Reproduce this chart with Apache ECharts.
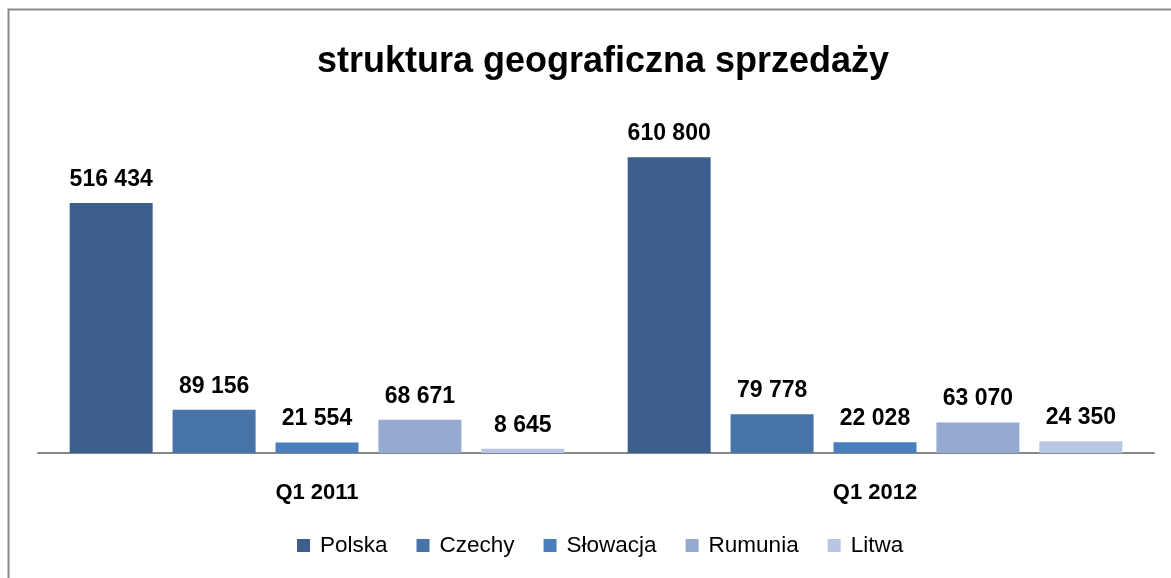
<!DOCTYPE html>
<html><head><meta charset="utf-8">
<script src="https://cdn.jsdelivr.net/npm/echarts@6/dist/echarts.min.js"></script>
<style>html,body{margin:0;padding:0;background:#fff}#c{width:1171px;height:578px}</style>
</head><body><div id="c"></div>
<script>
const categories = ['Q1 2011', 'Q1 2012'];
const seriesNames = ['Polska', 'Czechy', 'Słowacja', 'Rumunia', 'Litwa'];
const polska = [516434, 610800];
const czechy = [89156, 79778];
const slowacja = [21554, 22028];
const rumunia = [68671, 63070];
const litwa = [8645, 24350];
const values = [polska, czechy, slowacja, rumunia, litwa];
const colors = ['#3d5f8e', '#4673a8', '#4a7ebd', '#95a9d1', '#b9c6e3'];

const fmt = v => String(v).replace(/\B(?=(\d{3})+(?!\d))/g, ' ');
const FONT = 'Liberation Sans';
const chart = echarts.init(document.getElementById('c'));
chart.setOption({
  animation: false,
  title: {
    text: 'struktura geograficzna sprzedaży',
    left: 598, top: 39, textAlign: 'center',
    textStyle: { fontFamily: FONT, fontWeight: 'bold', fontSize: 36, color: '#000' }
  },
  graphic: [{
    type: 'rect', shape: { x: 8.5, y: 9.5, width: 1200, height: 600 },
    style: { fill: 'none', stroke: '#898989', lineWidth: 2 }, silent: true, z: -1
  }],
  legend: {
    data: seriesNames, bottom: 16, left: 292,
    itemWidth: 13, itemHeight: 13, itemGap: 29, icon: 'rect',
    textStyle: { fontFamily: FONT, fontSize: 22.5, color: '#000', padding: [0, 0, 0, 5] }
  },
  grid: { left: 38, width: 1116, top: 114, bottom: 125, containLabel: false },
  xAxis: {
    type: 'category', data: categories,
    axisLine: { lineStyle: { color: '#878787', width: 2 } },
    axisTick: { show: false },
    axisLabel: { fontFamily: FONT, fontWeight: 'bold', fontSize: 22, color: '#000', margin: 29 }
  },
  yAxis: { type: 'value', min: 0, max: 700000, show: false, splitLine: { show: false } },
  series: seriesNames.map((n, i) => ({
    name: n, type: 'bar', data: values[i], barWidth: 83, barGap: '24%',
    itemStyle: { color: colors[i] },
    label: { show: true, position: 'top', distance: 12, formatter: p => fmt(p.value),
      fontFamily: FONT, fontWeight: 'bold', fontSize: 23, color: '#000' }
  }))
});
</script></body></html>
